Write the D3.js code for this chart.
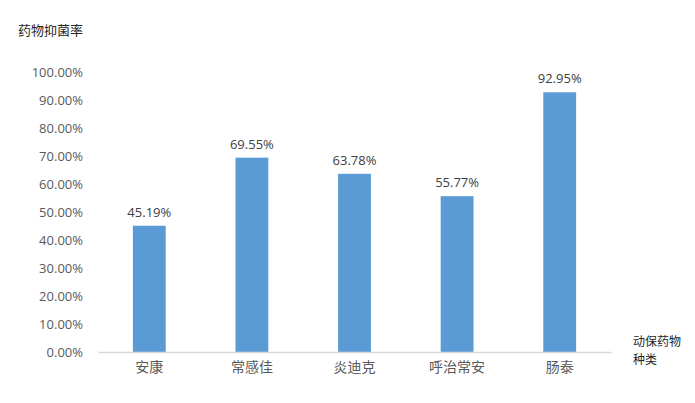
<!DOCTYPE html>
<html>
<head>
<meta charset="utf-8">
<script src="https://cdn.jsdelivr.net/npm/d3@7"></script>
<style>
body{margin:0;background:#fff;}
text{font-family:"Noto Sans CJK SC","Liberation Sans",sans-serif;}
</style>
</head>
<body>
<svg id="chart"></svg>
<script>
var categories = ["安康","常感佳","炎迪克","呼治常安","肠泰"]
var values = [45.19, 69.55, 63.78, 55.77, 92.95]
var yTicks = [0,10,20,30,40,50,60,70,80,90,100]

var screen = {width:695, height:403}
var margin = {top:72.6, left:98, right:84, bottom:51}
var w = screen.width - margin.left - margin.right
var h = screen.height - margin.top - margin.bottom

var svg = d3.select("#chart")
  .attr("width", screen.width)
  .attr("height", screen.height)

var chart = svg.append("g")
  .attr("transform", "translate(" + margin.left + "," + margin.top + ")")

var xScale = d3.scaleBand()
  .domain(categories)
  .range([0, w])
  .paddingInner(0.68)
  .paddingOuter(0.34)

var yScale = d3.scaleLinear()
  .domain([0, 100])
  .range([h, 0])

// y axis labels only, no line
var yAxis = d3.axisLeft(yScale)
  .tickValues(yTicks)
  .tickSize(0)
  .tickPadding(15)
  .tickFormat(function(d){ return d.toFixed(2) + "%" })

chart.append("g")
  .call(yAxis)
  .call(function(g){ g.select(".domain").remove() })
  .selectAll("text")
  .style("font-size", "13px")
  .style("font-family", "'Open Sans','DejaVu Sans',sans-serif")
  .attr("fill", "#595959")

chart.selectAll("rect.bar")
  .data(values)
  .enter()
  .append("rect")
  .attr("class", "bar")
  .attr("x", function(d,i){ return xScale(categories[i]) })
  .attr("y", function(d){ return yScale(d) })
  .attr("width", xScale.bandwidth())
  .attr("height", function(d){ return h - yScale(d) })
  .attr("fill", "#5B9BD5")

chart.selectAll("text.val")
  .data(values)
  .enter()
  .append("text")
  .attr("class", "val")
  .attr("x", function(d,i){ return xScale(categories[i]) + xScale.bandwidth()/2 })
  .attr("y", function(d){ return yScale(d) - 9 })
  .attr("text-anchor", "middle")
  .style("font-size", "13px")
  .style("font-family", "'Open Sans','DejaVu Sans',sans-serif")
  .attr("fill", "#404040")
  .text(function(d){ return d.toFixed(2) + "%" })

var xAxis = d3.axisBottom(xScale).tickSize(0).tickPadding(10)

var xg = chart.append("g")
  .attr("transform", "translate(0," + h + ")")
  .call(xAxis)
xg.select(".domain").attr("stroke", "#d9d9d9").attr("stroke-width", 1.5)
xg.selectAll("text")
  .style("font-size", "14px")
  .attr("fill", "#595959")

svg.append("text")
  .attr("x", 18)
  .attr("y", 35)
  .style("font-size", "13px")
  .attr("fill", "#262626")
  .text("药物抑菌率")

svg.append("text")
  .attr("x", 633)
  .attr("y", 346)
  .style("font-size", "12px")
  .attr("fill", "#262626")
  .text("动保药物")

svg.append("text")
  .attr("x", 633)
  .attr("y", 364)
  .style("font-size", "12px")
  .attr("fill", "#262626")
  .text("种类")
</script>
</body>
</html>
